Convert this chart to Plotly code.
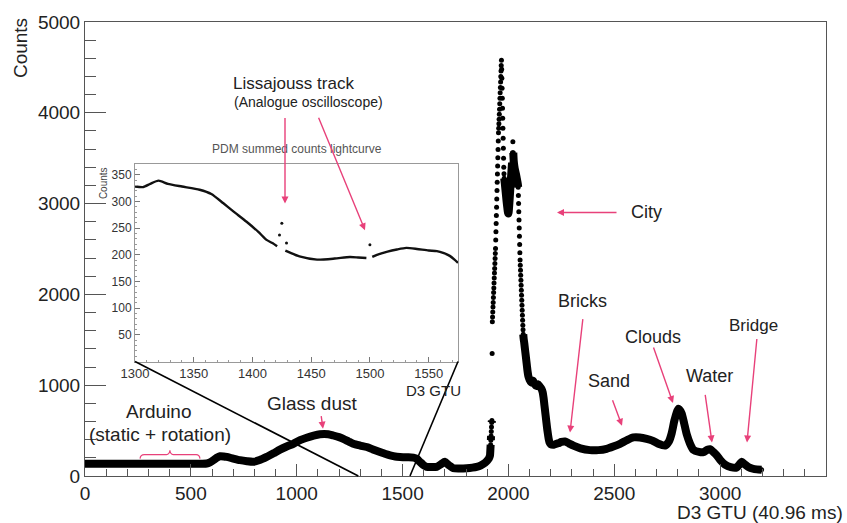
import plotly.graph_objects as go

# ---- PDM summed-counts light curve (D3 GTU vs counts) ----
gtu = [
    0, 100, 200, 300, 400, 500, 575,
    590, 606, 622, 638, 655, 669, 700, 732, 765, 795, 825, 858, 890, 921, 950,
    984, 1016, 1047, 1080, 1110, 1130, 1149, 1173, 1200, 1220, 1245, 1267, 1300,
    1331, 1360, 1393, 1420, 1441, 1465, 1488, 1520, 1551, 1567, 1582, 1598, 1614,
    1640, 1661, 1682, 1700, 1718, 1740, 1770, 1803, 1830, 1850, 1870, 1889, 1900,
    1908, 1913,
    1914, 1915, 1916, 1917, 1918, 1919, 1920, 1921, 1922, 1923,
    1924, 1925, 1926, 1927, 1928, 1929, 1930, 1931, 1932, 1933, 1934, 1935, 1936,
    1937, 1938, 1939, 1940, 1941, 1942, 1943, 1944, 1945, 1946, 1947, 1948, 1949,
    1950, 1951, 1952, 1953, 1954, 1955, 1956, 1957, 1958, 1959, 1960, 1961, 1962,
    1963, 1964, 1965, 1966, 1967,
    1968, 1969, 1970, 1971, 1972, 1973, 1974, 1975, 1976, 1977, 1978, 1979, 1980,
    1983, 1986, 1989, 1992, 1995, 1998, 2000, 2003, 2006, 2009, 2012, 2015, 2017,
    2019, 2021, 2023, 2025, 2028, 2032, 2036, 2040, 2044, 2046, 2047, 2048, 2049,
    2050, 2051, 2052, 2053, 2054, 2055, 2056, 2057, 2058, 2059, 2060, 2061, 2062,
    2063, 2064, 2065, 2066, 2067, 2068, 2069, 2070, 2072, 2075, 2078, 2081, 2084,
    2087, 2090, 2094, 2100, 2108, 2116, 2124, 2132, 2140, 2148, 2156, 2162, 2166,
    2170, 2174, 2178, 2182, 2186, 2190, 2194,
    2200, 2215, 2235, 2250, 2267, 2285, 2307, 2340, 2385, 2425, 2464, 2495, 2527,
    2560, 2590, 2620, 2653, 2680, 2708, 2740, 2758, 2771, 2785, 2803, 2818, 2830,
    2842, 2857, 2873, 2900, 2921, 2940, 2952, 2968, 2984, 3003, 3023, 3050, 3078,
    3092, 3102, 3115, 3133, 3155, 3173, 3196,
]
counts = [
    135, 135, 134, 135, 136, 135, 138,
    150, 174, 200, 217, 215, 210, 192, 174, 162, 156, 175, 210, 250, 290, 322,
    355, 395, 422, 445, 460, 462, 460, 446, 428, 410, 380, 355, 335,
    319, 292, 264, 242, 228, 215, 210, 206, 203, 190, 156, 122, 101,
    98, 101, 130, 156, 120, 85, 82, 85, 92, 101, 118, 145, 170,
    195, 228,
    260, 300, 345, 395, 440, 490, 540, 590, 610, 1350,
    1700, 1750, 1805, 1860, 1910, 1965, 2020, 2070, 2125, 2180, 2235, 2285, 2340,
    2395, 2450, 2505, 2600, 2690, 2780, 2870, 2960, 3050, 3145, 3235, 3325, 3415,
    3505, 3595, 3690, 3780, 3830, 3880, 3930, 3985, 4040, 4100, 4160, 4220, 4280,
    4340, 4400, 4460, 4520, 4580,
    4480, 4380, 4270, 4160, 4050, 3940, 3830, 3720, 3610, 3500, 3400, 3330, 3280,
    3220, 3150, 3080, 3010, 2950, 2900, 2890, 2960, 3060, 3170, 3280, 3380, 3450,
    3560, 3680, 3560, 3470, 3410, 3360, 3320, 3270, 3220, 3180, 3090, 3000, 2910,
    2820, 2730, 2640, 2550, 2460, 2380, 2320, 2265, 2210, 2155, 2100, 2045, 1990,
    1935, 1880, 1825, 1770, 1715, 1660, 1610, 1560, 1510, 1460, 1400, 1340, 1280,
    1220, 1160, 1100, 1060, 1030, 1050, 1010, 990, 1010, 985, 960, 920, 860,
    780, 700, 620, 540, 470, 410, 370,
    350, 345, 360, 375, 380, 360, 335, 305, 285, 285, 300, 325, 355,
    395, 425, 425, 410, 390, 355, 335, 380, 470, 620, 740, 690, 580,
    460, 360, 290, 265, 262, 290, 295, 265, 228, 170, 125, 98, 94,
    130, 156, 130, 100, 80, 73, 70,
]

# ---- Inset: zoom on GTU 1300-1575 (None = missing frames) ----
inset_gtu = [1300, 1307, 1313, 1320, 1328, 1340, 1355, 1365, 1375, 1384, 1395,
             1405, 1412, 1417, 1421, 1424, 1428, 1432, 1440, 1455, 1470, 1483,
             1490, 1497, 1500, 1502, 1506, 1515, 1523, 1531, 1540, 1550, 1557,
             1563, 1568, 1572, 1575]
inset_counts = [328, 327, 333, 339, 333, 328, 322, 314, 297, 281, 262,
                243, 228, 222, 216, None, 208, 204, 197, 191, 193, 196,
                195, 194, None, 196, 200, 206, 210, 213, 211, 208, 207,
                203, 198, 191, 185]
inset_stray_gtu = [1423, 1425, 1429, 1500]
inset_stray_counts = [237, 259, 222, 219]

# ---- page geometry (pixels) ----
W, H = 847, 523
ML, MR, MT, MB = 85, 21, 16, 47
PW, PH = W - ML - MR, H - MT - MB


def paper(xp, yp):
    return (xp - ML) / PW, (H - MB - yp) / PH


FONT = "Liberation Sans, Arial, Helvetica, sans-serif"
TXT = "#222222"
PINK = "#e8417a"
AX = "#555555"

# thick curve: join neighbours only where the signal changes slowly
line_x, line_y = [gtu[0]], [counts[0]]
for i in range(1, len(gtu)):
    step = abs(counts[i] - counts[i - 1]) / (gtu[i] - gtu[i - 1])
    if step > 45:
        line_x.append(None)
        line_y.append(None)
    line_x.append(gtu[i])
    line_y.append(counts[i])

fig = go.Figure()
fig.add_trace(go.Scatter(x=line_x, y=line_y, mode="lines",
                         line=dict(color="black", width=8, shape="spline", smoothing=0.6),
                         connectgaps=False, hoverinfo="skip"))
fig.add_trace(go.Scatter(x=gtu, y=counts, mode="markers",
                         marker=dict(color="black", size=5)))

fig.add_trace(go.Scatter(x=inset_gtu, y=inset_counts, mode="lines",
                         line=dict(color="#111111", width=2.4, shape="spline", smoothing=0.6),
                         connectgaps=False, xaxis="x2", yaxis="y2"))
fig.add_trace(go.Scatter(x=inset_stray_gtu, y=inset_stray_counts,
                         mode="markers", marker=dict(color="#111111", size=3),
                         xaxis="x2", yaxis="y2"))

ix0, iy0 = paper(135, 360)
ix1, iy1 = paper(458, 160)

fig.update_layout(
    width=W, height=H,
    margin=dict(l=ML, r=MR, t=MT, b=MB),
    paper_bgcolor="white", plot_bgcolor="white",
    showlegend=False,
    font=dict(family=FONT, color=TXT, size=19),
    xaxis=dict(range=[0, 3500], tickvals=[0, 500, 1000, 1500, 2000, 2500, 3000, 3500],
               ticks="inside", ticklen=12, tickwidth=1, tickcolor=AX,
               minor=dict(dtick=100, ticks="inside", ticklen=7, tickcolor=AX),
               showline=True, linecolor=AX, linewidth=1, mirror=True,
               showgrid=False, zeroline=False,
               tickfont=dict(size=19, color=TXT)),
    yaxis=dict(range=[0, 5000], tickvals=[0, 1000, 2000, 3000, 4000, 5000],
               ticks="inside", ticklen=21, tickwidth=1, tickcolor=AX,
               minor=dict(dtick=200, ticks="inside", ticklen=11, tickcolor=AX),
               showline=True, linecolor=AX, linewidth=1, mirror=True,
               showgrid=False, zeroline=False,
               tickfont=dict(size=19, color=TXT)),
    xaxis2=dict(domain=[ix0, ix1], anchor="y2", range=[1300, 1575],
                tickvals=[1300, 1350, 1400, 1450, 1500, 1550],
                ticks="inside", ticklen=5, tickcolor="#777",
                minor=dict(dtick=10, ticks="inside", ticklen=2, tickcolor="#999"),
                showline=True, linecolor="#999", linewidth=1, mirror=True,
                showgrid=False, zeroline=False,
                tickfont=dict(size=13, color="#333")),
    yaxis2=dict(domain=[iy0, iy1], anchor="x2", range=[0, 370],
                tickvals=[50, 100, 150, 200, 250, 300, 350],
                ticks="inside", ticklen=5, tickcolor="#777",
                minor=dict(dtick=10, ticks="inside", ticklen=2, tickcolor="#999"),
                showline=True, linecolor="#999", linewidth=1, mirror=True,
                showgrid=False, zeroline=False,
                tickfont=dict(size=12, color="#333")),
)

shapes = []
# connectors from the inset's lower corners down to the zoomed GTU span
shapes.append(dict(type="line", xref="paper", yref="paper",
                   x0=ix0, y0=iy0, x1=1291 / 3500, y1=0,
                   line=dict(color="black", width=1.6)))
shapes.append(dict(type="line", xref="paper", yref="paper",
                   x0=ix1, y0=iy0, x1=1535 / 3500, y1=0,
                   line=dict(color="black", width=1.6)))
# brace marking the Arduino interval
shapes.append(dict(type="path", xref="x", yref="y",
                   path="M 260,192 Q 262,236 280,236 L 385,236 Q 399,236 401,283 "
                        "Q 403,236 417,236 L 525,236 Q 541,236 543,192",
                   line=dict(color=PINK, width=1.2)))
fig.update_layout(shapes=shapes)

ann = []


def label(text, xp, yp, size=19, color=TXT, angle=0, xanchor="center", yanchor="middle"):
    x, y = paper(xp, yp)
    ann.append(dict(text=text, x=x, y=y, xref="paper", yref="paper",
                    showarrow=False, textangle=angle,
                    xanchor=xanchor, yanchor=yanchor,
                    font=dict(family=FONT, size=size, color=color)))


def arrow(tail, tip):
    x, y = paper(*tip)
    ann.append(dict(text="", x=x, y=y, xref="paper", yref="paper",
                    showarrow=True, ax=tail[0] - tip[0], ay=tail[1] - tip[1],
                    arrowhead=2, arrowsize=1, arrowwidth=1.4,
                    arrowcolor=PINK, standoff=0, startstandoff=0))


label("Counts", 20, 10, angle=-90, yanchor="top")
label("D3 GTU (40.96 ms)", 845, 513, xanchor="right")
label("Lissajouss track", 293, 78, size=17)
label("(Analogue oscilloscope)", 308, 97, size=14)
label("PDM summed counts lightcurve", 297, 145, size=12, color="#555")
label("Counts", 103, 161, size=10, color="#444", angle=-90, yanchor="top")
label("D3 GTU", 433, 389, size=15)
label("City", 646, 209, size=18)
label("Bricks", 582, 299, size=18)
label("Sand", 609, 380, size=18)
label("Clouds", 653, 335, size=18)
label("Water", 709, 375, size=18)
label("Bridge", 753, 324, size=17)
label("Glass dust", 312, 403, size=19)
label("Arduino", 159, 411, size=19)
label("(static + rotation)", 160, 434, size=19)

arrow((285, 113), (285, 200))
arrow((318, 113), (365, 227))
arrow((618, 209), (557, 209))
arrow((583, 317), (570, 432))
arrow((612, 398), (622, 425))
arrow((653, 345), (673, 402))
arrow((705, 393), (712, 442))
arrow((757, 337), (747, 442))
arrow((321, 414), (323, 428))

fig.update_layout(annotations=ann)
fig.write_html("out.html")
